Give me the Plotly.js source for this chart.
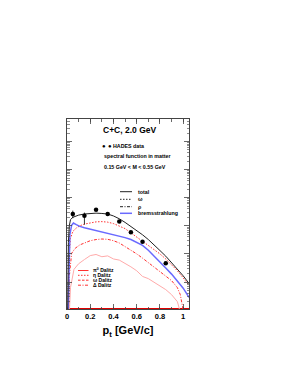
<!DOCTYPE html>
<html><head><meta charset="utf-8">
<script src="https://cdn.plot.ly/plotly-3.0.1.min.js"></script>
<style>html,body{margin:0;padding:0;background:#fff}</style>
</head><body>
<div id="chart" style="width:291px;height:376px"></div>
<script>
// HADES data
const hadesPt = [0.05, 0.15, 0.25, 0.35, 0.45, 0.55, 0.65, 0.85];
const hadesY = [2.63e-3, 2.29e-3, 3.72e-3, 2.63e-3, 1.41e-3, 5.89e-4, 2.69e-4, 4.68e-5];
const hadesErrPlus = [0.84e-3, 0.66e-3, 0.3e-3, 0.25e-3, 0.12e-3, 0.05e-3, 0.025e-3, 0.5e-5];
const hadesErrMinus = [0.77e-3, 1.19e-3, 0.3e-3, 0.25e-3, 0.12e-3, 0.05e-3, 0.025e-3, 0.5e-5];

// total
const totalPt = [0.005, 0.012, 0.02, 0.03, 0.05, 0.1, 0.15, 0.2, 0.25, 0.3, 0.35, 0.4, 0.45, 0.5, 0.55, 0.6, 0.65, 0.7, 0.75, 0.8, 0.85, 0.9, 0.95, 1.0, 1.05];
const totalY = [3.16e-7, 2.51e-4, 1.0e-3, 1.66e-3, 2.0e-3, 2.40e-3, 2.63e-3, 2.75e-3, 2.82e-3, 2.75e-3, 2.63e-3, 2.24e-3, 1.78e-3, 1.32e-3, 9.55e-4, 6.76e-4, 4.79e-4, 3.24e-4, 2.14e-4, 1.32e-4, 8.32e-5, 4.90e-5, 2.82e-5, 1.66e-5, 8.91e-6];

// bremsstrahlung
const bremPt = [0.005, 0.015, 0.025, 0.04, 0.055, 0.08, 0.11, 0.15, 0.2, 0.25, 0.3, 0.35, 0.4, 0.45, 0.5, 0.55, 0.6, 0.65, 0.7, 0.75, 0.8, 0.85, 0.9, 0.95, 1.0, 1.05];
const bremY = [1e-7, 3.16e-5, 5.01e-4, 1.05e-3, 1.26e-3, 1.10e-3, 9.55e-4, 8.51e-4, 7.59e-4, 6.76e-4, 6.17e-4, 5.37e-4, 4.90e-4, 4.37e-4, 3.80e-4, 3.24e-4, 2.63e-4, 2.0e-4, 1.35e-4, 8.51e-5, 5.37e-5, 3.16e-5, 1.91e-5, 1.10e-5, 6.03e-6, 2.82e-6];

// eta Dalitz
const etaPt = [0.005, 0.015, 0.03, 0.05, 0.08, 0.11, 0.15, 0.2, 0.25, 0.3, 0.35, 0.4, 0.45, 0.5, 0.55, 0.6, 0.65, 0.7, 0.75, 0.8, 0.85, 0.9, 0.95, 1.0, 1.05];
const etaY = [1e-7, 6.31e-5, 3.55e-4, 6.31e-4, 8.32e-4, 1.0e-3, 1.15e-3, 1.29e-3, 1.38e-3, 1.41e-3, 1.35e-3, 1.20e-3, 1.0e-3, 7.94e-4, 5.62e-4, 3.98e-4, 2.88e-4, 2.04e-4, 1.45e-4, 1.0e-4, 6.61e-5, 4.17e-5, 2.51e-5, 1.41e-5, 7.59e-6];

// omega Dalitz
const omegaPt = [0.005, 0.02, 0.04, 0.07, 0.11, 0.15, 0.2, 0.25, 0.3, 0.35, 0.4, 0.45, 0.5, 0.55, 0.6, 0.65, 0.7, 0.75, 0.8, 0.85, 0.9, 0.95, 0.975, 1.0, 1.01];
const omegaY = [3.16e-8, 1.58e-5, 1.05e-4, 1.58e-4, 2.09e-4, 2.51e-4, 2.95e-4, 3.24e-4, 3.39e-4, 3.31e-4, 2.95e-4, 2.45e-4, 1.86e-4, 1.38e-4, 1.0e-4, 7.08e-5, 4.90e-5, 3.39e-5, 2.34e-5, 1.58e-5, 1.12e-5, 6.31e-6, 3.55e-6, 1.0e-6, 1e-7];

// Delta Dalitz
const deltaPt = [0.01, 0.03, 0.06, 0.1, 0.15, 0.2, 0.25, 0.3, 0.35, 0.4, 0.45, 0.5, 0.55, 0.6, 0.65, 0.7, 0.75, 0.8, 0.85, 0.9, 0.95, 0.97, 0.99];
const deltaY = [1e-7, 6.31e-6, 2.82e-5, 4.47e-5, 6.31e-5, 8.71e-5, 9.55e-5, 7.94e-5, 8.51e-5, 6.61e-5, 6.03e-5, 4.68e-5, 3.47e-5, 2.51e-5, 1.58e-5, 1.32e-5, 1.0e-5, 7.59e-6, 5.37e-6, 3.55e-6, 2.0e-6, 1.0e-6, 1e-7];

// pi0 Dalitz (zero in this mass window, lies on the floor)
const pi0Pt = [0, 1.05];
const pi0Y = [1.12e-6, 1.12e-6];

const xTickVals = [0, 0.2, 0.4, 0.6, 0.8, 1];
const xTickText = ['0', '0.2', '0.4', '0.6', '0.8', '1'];

const L = 67, R = 189, T = 119, B = 309;
const px = x => (x - L) / (R - L);
const py = y => (B - y) / (B - T);
const FONT = 'Liberation Sans, Arial, sans-serif';

const traces = [
  {x: pi0Pt, y: pi0Y, mode: 'lines', line: {color: '#e00000', width: 1.6}, cliponaxis: false},
  {x: deltaPt, y: deltaY, mode: 'lines', line: {color: '#ffaaaa', width: 1}},
  {x: omegaPt, y: omegaY, mode: 'lines', line: {color: '#ff3030', width: 1, dash: '3px,1.5px,1px,1.5px'}},
  {x: etaPt, y: etaY, mode: 'lines', line: {color: '#ff3030', width: 1, dash: '1.5px,1.5px'}},
  {x: bremPt, y: bremY, mode: 'lines', line: {color: '#6a6aff', width: 1.5}},
  {x: totalPt, y: totalY, mode: 'lines', line: {color: '#222', width: 1}},
  {x: hadesPt, y: hadesY, mode: 'markers', marker: {color: '#000', size: 4.5},
   error_y: {type: 'data', symmetric: false, array: hadesErrPlus, arrayminus: hadesErrMinus, color: '#000', thickness: 0.8, width: 0}}
];

const ann = (x, y, text, size, extra) => Object.assign({
  xref: 'paper', yref: 'paper', x: px(x), y: py(y), text: text, showarrow: false,
  xanchor: 'left', yanchor: 'middle', font: {family: FONT, size: size, color: '#000', weight: 'bold'}
}, extra || {});

const annotations = [
  ann(101, 130, 'C+C, 2.0 GeV', 8.5),
  ann(99.5, 145.7, '●', 6),
  ann(105.5, 145.7, '●', 6),
  ann(110.5, 145.7, 'HADES data', 5.3),
  ann(101.5, 155.5, 'spectral function in matter', 5.3),
  ann(101.5, 166.5, '0.15 GeV &lt; M &lt; 0.55 GeV', 5.3),
  ann(136, 191.7, 'total', 5.3),
  ann(136, 199.3, 'ω', 5.3),
  ann(136, 206.7, 'ρ', 5.3),
  ann(136, 213.3, 'bremsstrahlung', 5.3),
  ann(91, 269.8, 'π<sup>0</sup> Dalitz', 5),
  ann(91, 275, 'η Dalitz', 5),
  ann(91, 280, 'ω Dalitz', 5),
  ann(91, 285, 'Δ Dalitz', 5)
];

const lineShape = (x0, x1, y, color, width, dash) => ({
  type: 'line', xref: 'paper', yref: 'paper', x0: px(x0), x1: px(x1), y0: py(y), y1: py(y),
  line: {color: color, width: width, dash: dash || 'solid'}
});

const shapes = [
  lineShape(120, 132, 191.7, '#222', 1),
  lineShape(120, 132, 199.3, '#222', 1, '1.5px,1.5px'),
  lineShape(120, 132, 206.7, '#222', 1, '3px,1.5px,1px,1.5px'),
  lineShape(120, 132, 213.3, '#6a6aff', 1.5),
  lineShape(78, 88.5, 270.5, '#ff3030', 1),
  lineShape(78, 88.5, 275.3, '#ff3030', 1, '1.5px,1.5px'),
  lineShape(78, 88.5, 280.2, '#ff3030', 1, '2.5px,1.5px'),
  lineShape(78, 88.5, 285.2, '#ff3030', 1, '3px,1.5px,1px,1.5px')
];

const layout = {
  width: 291, height: 376,
  margin: {l: L, r: 291 - R, t: T, b: 376 - B, pad: 0},
  paper_bgcolor: '#fff', plot_bgcolor: '#fff',
  showlegend: false,
  font: {family: FONT, color: '#000'},
  xaxis: {
    range: [0, 1.05], tickvals: xTickVals, ticktext: xTickText,
    ticks: 'inside', ticklen: 5, tickwidth: 0.8, tickcolor: '#444',
    minor: {dtick: 0.1, tick0: 0, ticks: 'inside', ticklen: 2.5, tickcolor: '#444', tickwidth: 0.8},
    showline: true, linecolor: '#444', linewidth: 1, mirror: 'ticks',
    showgrid: false, zeroline: false,
    tickfont: {family: FONT, size: 7.5, weight: 'bold', color: '#000'},
    title: {text: 'p<sub>t</sub> [GeV/c]', font: {family: FONT, size: 11, weight: 'bold', color: '#000'}, standoff: 6}
  },
  yaxis: {
    type: 'log', range: [-5.96, 0.8], dtick: 1,
    showticklabels: false,
    ticks: 'inside', ticklen: 5, tickwidth: 0.8, tickcolor: '#444',
    minor: {ticks: 'inside', ticklen: 2.5, tickcolor: '#444', tickwidth: 0.6},
    showline: true, linecolor: '#444', linewidth: 1, mirror: 'ticks',
    showgrid: false, zeroline: false
  },
  annotations: annotations,
  shapes: shapes
};

Plotly.newPlot('chart', traces, layout, {displayModeBar: false, staticPlot: true});
</script>
</body></html>
